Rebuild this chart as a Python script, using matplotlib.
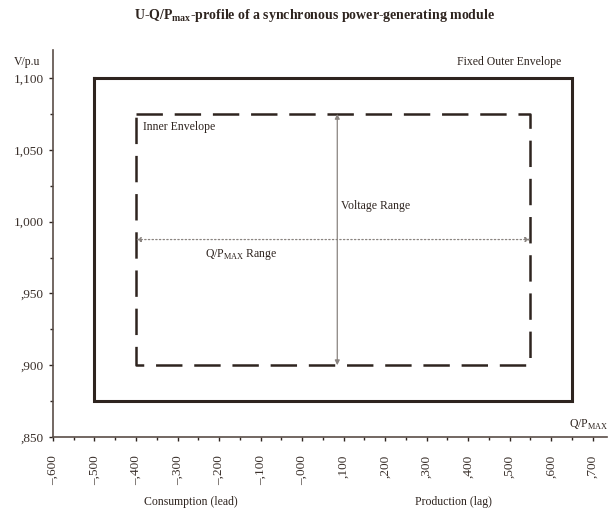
import numpy as np
import matplotlib
matplotlib.use('Agg')
import matplotlib.pyplot as plt
from matplotlib.ticker import MultipleLocator, FuncFormatter

plt.rcParams['font.family'] = ['Liberation Serif', 'DejaVu Serif']
plt.rcParams['mathtext.fontset'] = 'custom'
plt.rcParams['mathtext.rm'] = 'Liberation Serif'
plt.rcParams['mathtext.bf'] = 'Liberation Serif:bold'
plt.rcParams['lines.scale_dashes'] = False

ink = '#2e241f'

# Envelope corners (Q/Pmax, V p.u.)
outer_q = [-0.5, 0.65]
outer_v = [0.875, 1.1]
inner_q = [-0.4, 0.55]
inner_v = [0.9, 1.075]

# Range arrows
voltage_range_q = 0.085
q_range_v = 0.9875


def rect(q, v):
    xs = [q[0], q[1], q[1], q[0], q[0]]
    ys = [v[1], v[1], v[0], v[0], v[1]]
    return xs, ys


def fmt(val, pos):
    s = '{:.3f}'.format(val)
    if s.lstrip('-').startswith('0.'):
        s = s.replace('0.', '.', 1)
    return s.replace('.', ',').replace('-', '\u2013')


def fmt_x(val, pos):
    # the original axis prints zero as "-,000"
    if abs(val) < 1e-9:
        return '\u2013,000'
    return fmt(val, pos)


fig = plt.figure(figsize=(6.15, 5.14), dpi=100)
ax = fig.add_axes([53 / 615, 1 - 437 / 514, 554 / 615, (437 - 50) / 514])

xs, ys = rect(outer_q, outer_v)
ax.plot(xs, ys, color=ink, lw=2.2, solid_joinstyle='miter')
xs, ys = rect(inner_q, inner_v)
ax.plot(xs, ys, color=ink, lw=1.8, dashes=(19, 8.5), dash_capstyle='butt')

ax.annotate('', xy=(voltage_range_q, inner_v[1]), xytext=(voltage_range_q, inner_v[0]),
            arrowprops=dict(arrowstyle='<|-|>', color='#8a8480', lw=0.9,
                            mutation_scale=7, shrinkA=0, shrinkB=0))
ax.annotate('', xy=(inner_q[0], q_range_v), xytext=(inner_q[1], q_range_v),
            arrowprops=dict(arrowstyle='<|-|>', color='#8a8480', lw=0.9, ls=':',
                            mutation_scale=7, shrinkA=0, shrinkB=0))

ax.text(-0.383, 1.066, 'Inner Envelope', fontsize=8.5, color=ink, va='center')
ax.text(0.095, 1.011, 'Voltage Range', fontsize=8.5, color=ink, va='center')
ax.text(-0.147, 0.977, r'Q/P$_{\mathrm{MAX}}$ Range', fontsize=8.5, color=ink,
        ha='center', va='center')
ax.text(0.5, 1.111, 'Fixed Outer Envelope', fontsize=8.5, color=ink,
        ha='center', va='center')

ax.set_xlim(-0.6, -0.6 + 554 / 415)
ax.set_ylim(0.85, 0.85 + 387 / 1436)

ax.xaxis.set_minor_locator(MultipleLocator(0.05))
ax.yaxis.set_minor_locator(MultipleLocator(0.025))
ax.set_xticks(np.round(np.arange(-0.6, 0.71, 0.1), 2))
ax.set_yticks(np.round(np.arange(0.85, 1.101, 0.05), 3))
ax.xaxis.set_major_formatter(FuncFormatter(fmt_x))
ax.yaxis.set_major_formatter(FuncFormatter(fmt))

for s in ['top', 'right']:
    ax.spines[s].set_visible(False)
for s in ['left', 'bottom']:
    ax.spines[s].set_color('#5a4e48')
    ax.spines[s].set_linewidth(1.2)
ax.tick_params(which='both', color=ink, width=1.0, labelcolor='#3a302b')
ax.tick_params(which='major', length=3, labelsize=9.5)
ax.tick_params(which='minor', length=2.5)
ax.tick_params(axis='x', labelrotation=90, pad=10)

fig.text(14 / 615, 1 - 62 / 514, 'V/p.u', fontsize=8.5, color=ink, va='center')
fig.text(608 / 615, 1 - 425 / 514, r'Q/P$_{\mathrm{MAX}}$', fontsize=8.5, color=ink,
         ha='right', va='center')
fig.text(191 / 615, 1 - 502 / 514, 'Consumption (lead)', fontsize=8.5, color=ink,
         ha='center', va='center')
fig.text(453 / 615, 1 - 502 / 514, 'Production (lag)', fontsize=8.5, color=ink,
         ha='center', va='center')
fig.text(315 / 615, 1 - 15 / 514,
         r'U-Q/P$_{\mathbf{max}}$-profile of a synchronous power-generating module',
         fontsize=10, fontweight='bold', color=ink, ha='center', va='center')

fig.savefig('out.png', dpi=100)
